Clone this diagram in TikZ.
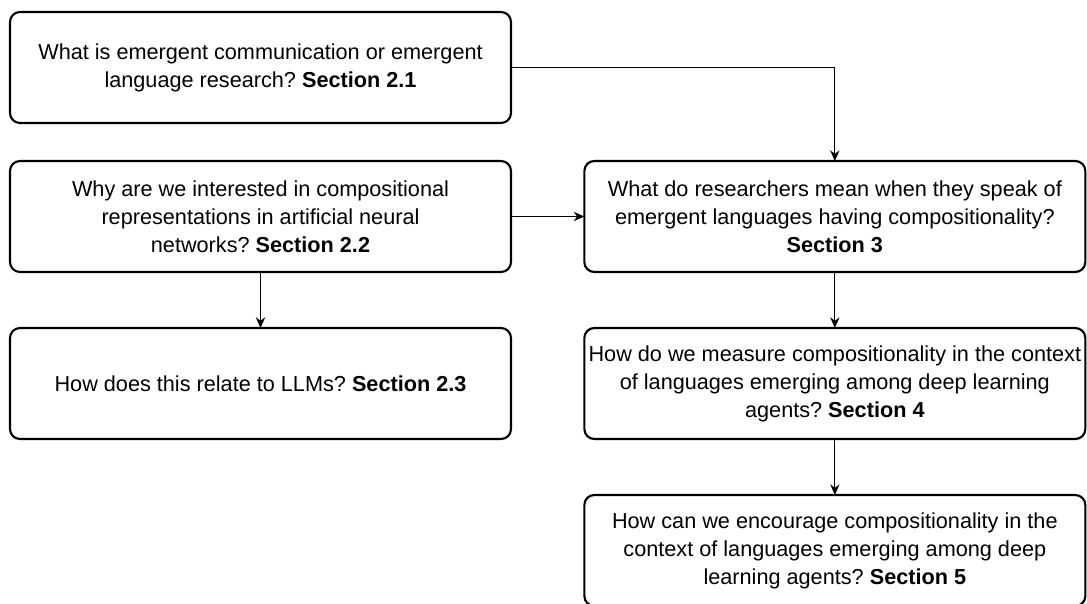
\documentclass[tikz,border=0pt]{standalone}
\usepackage{fontspec}
\setmainfont{Liberation Sans}
\usetikzlibrary{arrows.meta, positioning}

\begin{document}
\begin{tikzpicture}[
    question/.style={rectangle, rounded corners=7.5pt, draw, line width=1.6pt,
                     minimum width=375.75pt, minimum height=83.25pt, inner sep=0pt,
                     outer sep=0pt, align=center,
                     font=\fontsize{16.25}{21}\selectfont\frenchspacing},
    arrow/.style={-{Stealth[length=8pt, width=7pt]}, line width=0.8pt},
    node distance=42pt and 55pt
]
\useasboundingbox (0,0) rectangle (815.25pt,-452.25pt);

% Questions
\node[question, anchor=north west] (S21) at (7.5pt,-9pt)
    {What is emergent communication or emergent\\
     language research? \textbf{Section 2.1}};
\node[question, below=28.5pt of S21] (S22)
    {Why are we interested in compositional\\
     representations in artificial neural\\
     networks? \textbf{Section 2.2}};
\node[question, below=of S22] (S23)
    {How does this relate to LLMs? \textbf{Section 2.3}};
\node[question, right=of S22] (S3)
    {What do researchers mean when they speak of\\
     emergent languages having compositionality?\\
     \textbf{Section 3}};
\node[question, below=of S3] (S4)
    {How do we measure compositionality in the context\\
     of languages emerging among deep learning\\
     agents? \textbf{Section 4}};
\node[question, below=of S4] (S5)
    {How can we encourage compositionality in the\\
     context of languages emerging among deep\\
     learning agents? \textbf{Section 5}};

% Links
\draw[arrow] (S21.east) -| (S3.north);
\draw[arrow] (S22) -- (S3);
\draw[arrow] (S22) -- (S23);
\draw[arrow] (S3) -- (S4);
\draw[arrow] (S4) -- (S5);
\end{tikzpicture}
\end{document}
